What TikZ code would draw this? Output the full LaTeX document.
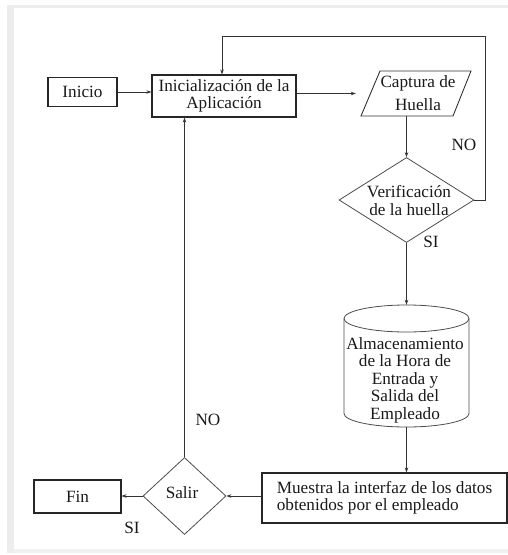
\documentclass[tikz,border=0pt]{standalone}
\usepackage{fontspec}
\setmainfont{Liberation Serif}
\usetikzlibrary{shapes.geometric,arrows.meta}
\begin{document}
\begin{tikzpicture}[x=1pt,y=-1pt,
  every node/.style={font=\fontsize{17.2}{18}\selectfont, text=black!90},
  pbox/.style={draw=black!85, line width=1.1pt, rectangle, inner sep=0pt},
  ghost/.style={draw=none, rectangle, inner sep=0pt},
  dia/.style={draw=black!70, line width=0.8pt, diamond, inner sep=0pt},
  conn/.style={draw=black!80, line width=0.7pt, -{Stealth[length=5pt,width=3.5pt]}},
  lbl/.style={inner sep=0pt}
]
\useasboundingbox (0,0) rectangle (508,555);
% light frame
\fill[black!7] (7,5) rectangle (14,553);
\fill[black!7] (14,5) rectangle (508,8);
\fill[black!6] (14,549) rectangle (508,553);

% nodes
\node[pbox, minimum width=69pt, minimum height=29pt] (ini) at (82.5,92) {Inicio};
\node[pbox, minimum width=144pt, minimum height=42pt, align=center,
      font=\fontsize{17.2}{17.5}\selectfont] (init) at (224,96) {Inicialización de la\\Aplicación};
\node[ghost, minimum width=110pt, minimum height=45pt] (cap) at (416,93.5) {};
\draw[black!80, line width=0.9pt] (380,71) -- (471,71) -- (453,116) -- (361,116) -- cycle;
\node[lbl, align=center, font=\fontsize{17.2}{23}\selectfont] (captxt) at (418,93) {Captura de\\Huella};

\node[dia, minimum width=135pt, minimum height=85pt] (ver) at (406.5,200) {};
\node[lbl, align=center, font=\fontsize{17.2}{18}\selectfont] (vertxt) at (409,201) {Verificación\\de la huella};

\node[ghost, minimum width=125pt, minimum height=122pt] (cyl) at (406.5,366) {};
\draw[black!70, line width=0.8pt] (406.5,318.5) ellipse [x radius=62.5pt, y radius=13.5pt];
\draw[black!70, line width=0.8pt] (344,318.5) -- (344,413.5) arc[start angle=180, end angle=360, x radius=62.5pt, y radius=13.5pt] -- (469,318.5);
\node[lbl, align=center, font=\fontsize{17.2}{17.5}\selectfont] (cyltxt) at (405,380) {Almacenamiento\\de la Hora de\\Entrada y\\Salida del\\Empleado};

\node[pbox, minimum width=245pt, minimum height=50pt, align=left,
      font=\fontsize{17.2}{17.5}\selectfont] (mue) at (384.5,498) {Muestra la interfaz de los datos\\ obtenidos por el empleado};
\node[dia, minimum width=83pt, minimum height=77pt] (sal) at (184.5,496) {};
\node[lbl] (saltxt) at (182,493) {Salir};
\node[pbox, minimum width=87pt, minimum height=33pt] (fin) at (77.5,496.5) {Fin};

% labels
\node[lbl] (no1) at (464,145) {NO};
\node[lbl] (si1) at (431,242) {SI};
\node[lbl] (no2) at (208,420) {NO};
\node[lbl] (si2) at (132,528) {SI};

\coordinate (looptr) at (485,36);

% connectors
\draw[conn] (ini.east) -- (ini.east -| init.west);
\draw[conn, shorten >=5pt] (cap.west -| init.east) -- (cap.west);
\draw[conn] (ver.north |- cap.south) -- (ver.north);
\draw[conn] (ver.east) -| (looptr) -| ([xshift=-2pt]init.north);
\draw[conn] (ver.south) -- (cyl.north);
\draw[conn] (cyl.south) -- (cyl.south |- mue.north);
\draw[conn] (sal.east -| mue.west) -- (sal.east);
\draw[conn] (sal.west) -- (sal.west -| fin.east);
\draw[conn] (sal.north) -- (sal.north |- init.south);
\end{tikzpicture}
\end{document}
